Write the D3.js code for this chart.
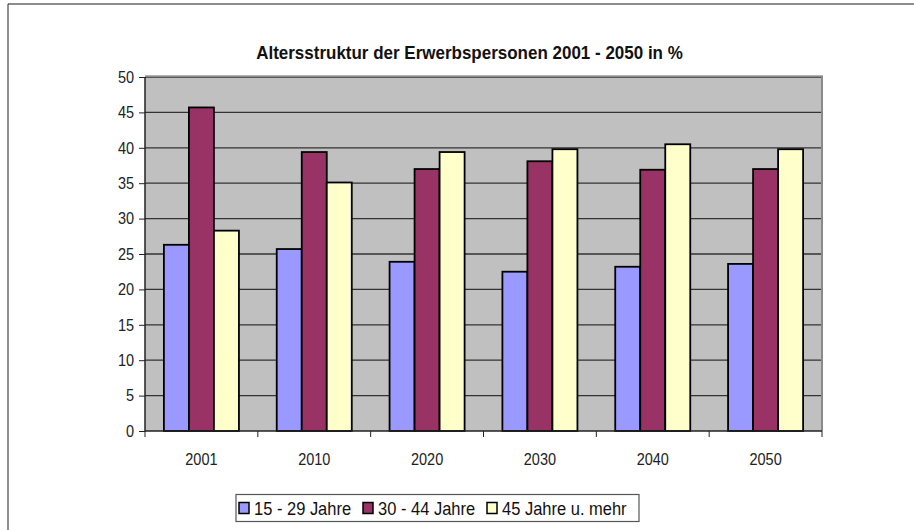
<!DOCTYPE html>
<html><head><meta charset="utf-8">
<script src="https://cdn.jsdelivr.net/npm/d3@7"></script>
<style>body{margin:0;background:#fff}svg{display:block}
text{font-family:"Liberation Sans",Arial,sans-serif;transform-box:fill-box;transform-origin:center;transform:scaleY(1.12)}</style>
</head><body>
<svg id="c" width="914" height="530"></svg>
<script>
const categories = ["2001","2010","2020","2030","2040","2050"];
const seriesNames = ["15 - 29 Jahre","30 - 44 Jahre","45 Jahre u. mehr"];
const s1529 = [26.3, 25.7, 23.9, 22.5, 23.2, 23.6];
const s3044 = [45.7, 39.4, 37.0, 38.1, 36.9, 37.0];
const s45plus = [28.3, 35.1, 39.4, 39.8, 40.5, 39.8];
const yTicks = [0,5,10,15,20,25,30,35,40,45,50];
const colors = ["#9999FF","#993366","#FFFFCC"];
const series = [s1529, s3044, s45plus];

const svg = d3.select("#c");
const L=145, R=822, T=77, B=431;

// outer frame
svg.append("line").attr("x1",8).attr("x2",914).attr("y1",4).attr("y2",4).attr("stroke","#666").attr("stroke-width",1.5);
svg.append("line").attr("x1",8).attr("x2",8).attr("y1",4).attr("y2",530).attr("stroke","#222").attr("stroke-width",1);

const x0 = d3.scaleBand().domain(categories).range([L,R]).paddingInner(0.335).paddingOuter(0.1675);
const x1 = d3.scaleBand().domain([0,1,2]).range([0,x0.bandwidth()]);
const y = d3.scaleLinear().domain([0,50]).range([B,T]);

svg.append("rect").attr("x",L).attr("y",T).attr("width",R-L).attr("height",B-T).attr("fill","#C0C0C0");
// gridlines
svg.append("g").selectAll("line").data(yTicks.filter(d=>d>0)).join("line")
  .attr("x1",L).attr("x2",R).attr("y1",d=>y(d)).attr("y2",d=>y(d))
  .attr("stroke","#333").attr("stroke-width",1.3);
// plot border top/right lighter
svg.append("line").attr("x1",L).attr("x2",R+1).attr("y1",T-1).attr("y2",T-1).attr("stroke","#9a9a9a").attr("stroke-width",1.5);
svg.append("line").attr("x1",R).attr("x2",R).attr("y1",T-1).attr("y2",B).attr("stroke","#8a8a8a").attr("stroke-width",2);

// bars
const g = svg.append("g");
categories.forEach((c,i)=>{
  series.forEach((s,k)=>{
    g.append("rect")
      .attr("x",x0(c)+x1(k)).attr("y",y(s[i]))
      .attr("width",x1.bandwidth()).attr("height",y(0)-y(s[i]))
      .attr("fill",colors[k]).attr("stroke","#000").attr("stroke-width",1.8);
  });
});

// y axis
const ya = svg.append("g").attr("transform",`translate(${L},0)`)
  .call(d3.axisLeft(y).tickValues(yTicks).tickSize(6).tickPadding(5));
ya.select(".domain").attr("stroke","#222").attr("stroke-width",1.5).attr("d",`M0,${T}V${B}`);
ya.selectAll(".tick line").attr("stroke","#222");
ya.selectAll("text").attr("font-size",14.5).attr("fill","#222").attr("font-family","Liberation Sans, Arial, sans-serif");

// x axis
const xa = svg.append("g").attr("transform",`translate(0,${B})`)
  .call(d3.axisBottom(x0).tickSize(0).tickPadding(23));
xa.select(".domain").attr("stroke","#222").attr("stroke-width",1.5).attr("d",`M${L},0H${R}`);
xa.selectAll("text").attr("font-size",14.5).attr("fill","#222").attr("font-family","Liberation Sans, Arial, sans-serif");
const step = x0.step();
const bounds = d3.range(categories.length+1).map(i=>L+i*step);
svg.append("g").selectAll("line").data(bounds).join("line")
  .attr("x1",d=>d).attr("x2",d=>d).attr("y1",B).attr("y2",B+6).attr("stroke","#222").attr("stroke-width",1);

// title
svg.append("text").attr("x",469.5).attr("y",58).attr("text-anchor","middle")
  .attr("font-size",17).attr("font-weight","bold").attr("fill","#111")
  .text("Altersstruktur der Erwerbspersonen 2001 - 2050 in %");

// legend
const lg = svg.append("g");
lg.append("rect").attr("x",236).attr("y",494.5).attr("width",403).attr("height",27)
  .attr("fill","#fff").attr("stroke","#555").attr("stroke-width",1.2);
const lx = [239, 363, 487];
seriesNames.forEach((n,k)=>{
  lg.append("rect").attr("x",lx[k]).attr("y",502.5).attr("width",10).attr("height",11)
    .attr("fill",colors[k]).attr("stroke","#000").attr("stroke-width",1.5);
  lg.append("text").attr("x",lx[k]+15).attr("y",514.5).attr("font-size",16.5).attr("fill","#111").text(n);
});
</script>
</body></html>
